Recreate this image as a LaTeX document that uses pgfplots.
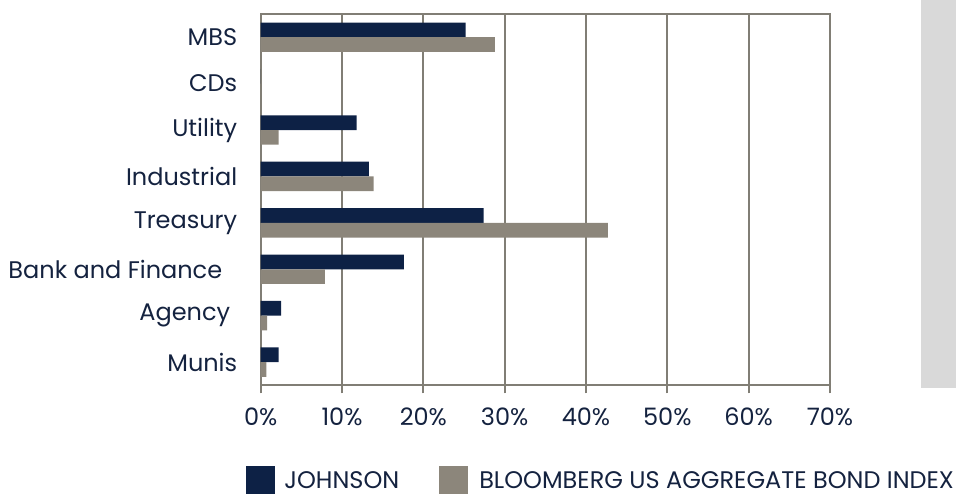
\documentclass[border=0pt]{standalone}
\usepackage{fontspec}
\setmainfont{Poppins}
\usepackage{pgfplots}
\pgfplotsset{compat=1.18}

\definecolor{navy}{HTML}{0D2145}
\definecolor{taupe}{HTML}{8C867B}
\definecolor{gridc}{HTML}{817E75}
\definecolor{txt}{HTML}{14223F}
\definecolor{panel}{HTML}{D9D9D9}

\pgfplotsset{
  sqlegend/.style={legend image code/.code={\fill[##1] (0pt,-14.5pt) rectangle (29pt,14.5pt);}},
}

\begin{document}
\begin{tikzpicture}[x=1pt,y=1pt]
% grey panel on the right
\fill[panel] (920.7,105) rectangle (956,493);

\begin{axis}[
    at={(260.7pt,107.7pt)}, anchor=south west,
    scale only axis,
    width=569.3pt, height=371.3pt,
    xbar, bar width=14.7pt,
    xmin=0, xmax=70,
    ymin=-0.5, ymax=7.5,
    xtick={0,10,...,70},
    xticklabel={\pgfmathprintnumber{\tick}\%},
    ytick={0,...,7},
    yticklabels={Munis, Agency\kern7pt, Bank and Finance\kern15pt, Treasury, Industrial, Utility, CDs, MBS},
    minor ytick={-0.5,0.5,...,7.5},
    xtick pos=bottom, ytick pos=left,
    tick align=outside,
    major tick length=8pt, minor tick length=8pt,
    ytick style={draw=none},
    minor tick style={gridc, line width=1.8pt},
    xtick style={gridc, line width=1.8pt},
    xmajorgrids,
    grid style={gridc, line width=1.8pt},
    axis line style={gridc, line width=1.8pt},
    tick label style={font=\fontsize{24}{28}\selectfont, text=txt},
    yticklabel style={xshift=-12pt},
    xticklabel style={yshift=-11pt},
    /pgf/number format/assume math mode=true,
    legend style={at={(-0.0255,-0.2565)}, anchor=west, draw=none, fill=none,
        inner sep=0pt, font=\fontsize{24}{28}\selectfont, text=txt,
        nodes={inner sep=0pt, anchor=west},
        /tikz/column 1/.style={column sep=9pt},
        /tikz/column 2/.style={column sep=40pt},
        /tikz/column 3/.style={column sep=11pt}},
    legend columns=2,
]

% Johnson
\addplot[xbar, fill=navy, draw=none, bar shift=7.35pt, sqlegend]
    coordinates {(2.2,0) (2.5,1) (17.6,2) (27.4,3) (13.3,4) (11.8,5) (0,6) (25.2,7)};
\addlegendentry{JOHNSON}

% Bloomberg US Aggregate
\addplot[xbar, fill=taupe, draw=none, bar shift=-7.35pt, sqlegend]
    coordinates {(0.7,0) (0.8,1) (7.9,2) (42.7,3) (13.9,4) (2.2,5) (0,6) (28.8,7)};
\addlegendentry{BLOOMBERG US AGGREGATE BOND INDEX}
\end{axis}

\pgfresetboundingbox
\path[use as bounding box] (0,0) rectangle (956,493);
\end{tikzpicture}
\end{document}
